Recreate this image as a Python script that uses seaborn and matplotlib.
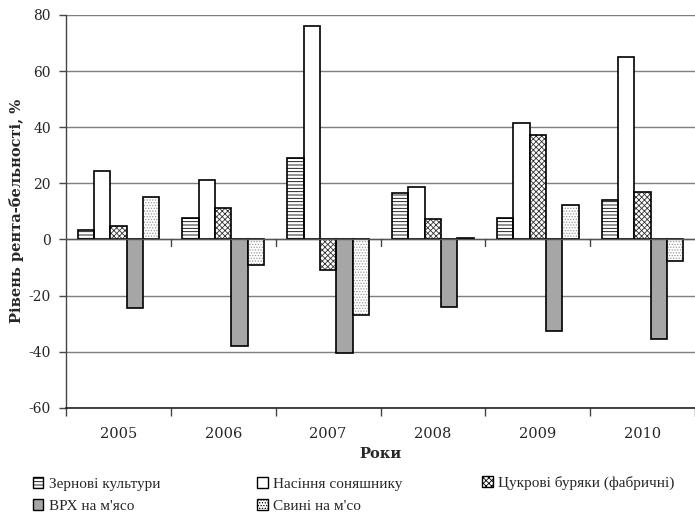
import matplotlib
matplotlib.use("Agg")
import matplotlib.pyplot as plt
import matplotlib.patches as mpatches
import matplotlib.transforms as mtransforms
import seaborn as sns
import pandas as pd

years = ["2005", "2006", "2007", "2008", "2009", "2010"]
series = ["Зернові культури", "Насіння соняшнику", "Цукрові буряки (фабричні)",
          "ВРХ на м'ясо", "Свині на м'со"]
grain = [3.3, 7.6, 28.9, 16.7, 7.5, 14.2]
sunflower = [24.4, 21.0, 76.2, 18.7, 41.5, 64.9]
sugar_beet = [4.9, 11.3, -11.0, 7.3, 37.1, 16.9]
cattle = [-24.5, -38.1, -40.6, -24.0, -32.5, -35.5]
pigs = [15.0, -9.2, -27.0, 0.5, 12.3, -7.7]
yticks = [-60, -40, -20, 0, 20, 40, 60, 80]

values = [grain, sunflower, sugar_beet, cattle, pigs]
df = pd.DataFrame({
    "Рік": [y for _ in series for y in years],
    "Культура": [s for s in series for _ in years],
    "Рентабельність": [v for vals in values for v in vals],
})

sns.set_theme(style="white")
plt.rcParams["font.family"] = ["DejaVu Serif"]
plt.rcParams["hatch.linewidth"] = 0.6

fig = plt.figure(figsize=(6.95, 5.13), dpi=100)
ax = fig.add_axes([0.095, 0.205, 0.905, 0.766])

styles = [
    dict(facecolor="white", hatch="-----", hatchcol="black"),
    dict(facecolor="white", hatch=None, hatchcol="black"),
    dict(facecolor="white", hatch="xxxxxx", hatchcol="#333333"),
    dict(facecolor="#A6A6A6", hatch=None, hatchcol="black"),
    dict(facecolor="white", hatch="......", hatchcol="#9a9a9a"),
]

sns.barplot(data=df, x="Рік", y="Рентабельність", hue="Культура",
            order=years, hue_order=series, width=0.78,
            palette=["white"] * 5, edgecolor="black", linewidth=1.2,
            legend=False, ax=ax, zorder=3)

for cont, st in zip(ax.containers, styles):
    for p in cont.patches:
        p.set_facecolor(st["facecolor"])
        if st["hatch"]:
            p.set_hatch(st["hatch"])
            p.set_edgecolor(st["hatchcol"])
            p.set_linewidth(0)
            ax.add_patch(mpatches.Rectangle(p.get_xy(), p.get_width(), p.get_height(),
                                            fill=False, edgecolor="black",
                                            linewidth=1.2, zorder=4))

ax.set_ylim(-60, 80)
ax.set_xlim(-0.5, len(years) - 0.5)
ax.set_yticks(yticks)
ax.set_yticklabels([str(t) for t in yticks], fontsize=10)
for t in yticks:
    ax.axhline(t, color="#7f7f7f", linewidth=1.0, zorder=1)
ax.axhline(0, color="#555555", linewidth=1.0, zorder=5)

ax.tick_params(axis="y", which="major", direction="out", length=5, width=1,
               color="#444444", left=True, pad=6)
ax.set_xticks(range(len(years)))
ax.set_xticklabels(years, fontsize=10.5)
ax.tick_params(axis="x", which="major", length=0, pad=14)
ax.set_xticks([i - 0.5 for i in range(len(years) + 1)], minor=True)
ax.tick_params(axis="x", which="minor", direction="out", length=6, width=1,
               color="#444444", bottom=True)

# category separators hanging below the zero axis line
trans = mtransforms.blended_transform_factory(ax.transData, ax.transData)
for i in range(1, len(years)):
    ax.plot([i - 0.5, i - 0.5], [0, -2.2], color="#444444", linewidth=1,
            zorder=5, transform=trans)

for side in ["top", "right"]:
    ax.spines[side].set_visible(False)
ax.spines["left"].set_color("#444444")
ax.spines["bottom"].set_color("#222222")
ax.spines["left"].set_linewidth(1.0)
ax.spines["bottom"].set_linewidth(1.2)

ax.set_ylabel("Рівень рента-бельності, %", fontsize=10.5, fontweight="bold", labelpad=3)
ax.set_xlabel("Роки", fontsize=10.5, fontweight="bold", labelpad=4)

handles = []
for st in styles:
    h = mpatches.Patch(facecolor=st["facecolor"], edgecolor="black",
                       hatch=st["hatch"], linewidth=1)
    handles.append(h)

# legend laid out as three columns below the axes
columns = [([0, 3], 0.047, 0.035), ([1, 4], 0.370, 0.035), ([2], 0.694, 0.0585)]
for idx, x0, yc in columns:
    leg = fig.legend([handles[i] for i in idx], [series[i] for i in idx],
                     loc="center left", bbox_to_anchor=(x0, yc),
                     frameon=False, prop={"family": "Liberation Serif", "size": 11},
                     handlelength=0.7, handleheight=0.7, handletextpad=0.35,
                     labelspacing=0.55, borderpad=0, borderaxespad=0)

fig.savefig("out.png", dpi=100)
